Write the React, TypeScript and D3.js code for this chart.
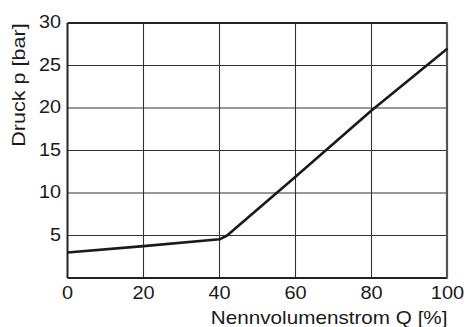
import React from "react";
import * as d3 from "d3";

const flowPercent = [0, 20, 40, 42, 60, 80, 100];
const pressureBar = [3.0, 3.75, 4.55, 5.0, 11.9, 19.7, 27.0];
const xTicks = [0, 20, 40, 60, 80, 100];
const yTicks = [5, 10, 15, 20, 25, 30];
const xTitle = "Nennvolumenstrom Q [%]";
const yTitle = "Druck p [bar]";

const W = 467;
const H = 327;
const left = 67.5;
const right = 447.5;
const top = 23;
const bottom = 278;
const FONT = "'Liberation Sans', Arial, Helvetica, sans-serif";

export default function App() {
  const x = d3.scaleLinear().domain([0, 100]).range([left, right]);
  const y = d3.scaleLinear().domain([0, 30]).range([bottom, top]);
  const pts = flowPercent.map((q, i) => [q, pressureBar[i]] as [number, number]);
  const line = d3
    .line<[number, number]>()
    .x((d) => x(d[0]))
    .y((d) => y(d[1]))
    .curve(d3.curveLinear);

  return (
    <svg
      width={W}
      height={H}
      style={{ position: "absolute", left: 0, top: 0, background: "#fff" }}
    >
      {/* grid */}
      {xTicks.slice(1, -1).map((t) => (
        <line key={"gx" + t} x1={x(t)} x2={x(t)} y1={top} y2={bottom} stroke="#333" strokeWidth={1.1} />
      ))}
      {yTicks.slice(0, -1).map((t) => (
        <line key={"gy" + t} x1={left} x2={right} y1={y(t)} y2={y(t)} stroke="#333" strokeWidth={1.1} />
      ))}
      {/* frame */}
      <line x1={left} x2={right} y1={top} y2={top} stroke="#222" strokeWidth={2} />
      <line x1={left} x2={right} y1={bottom} y2={bottom} stroke="#222" strokeWidth={2} />
      <line x1={left} x2={left} y1={top} y2={bottom} stroke="#222" strokeWidth={2} />
      <line x1={right - 0.5} x2={right - 0.5} y1={top} y2={bottom} stroke="#555" strokeWidth={2.2} />
      {/* curve */}
      <path d={line(pts) || ""} fill="none" stroke="#1a1a1a" strokeWidth={2.6} strokeLinejoin="round" strokeLinecap="butt" />
      {/* x tick labels */}
      {xTicks.map((t) => (
        <g key={"xl" + t} transform={`translate(${x(t)},299) scale(1.13,1)`}>
          <text textAnchor="middle" fontFamily={FONT} fontSize={17.7} fill="#1a1a1a">
            {t}
          </text>
        </g>
      ))}
      {/* y tick labels */}
      {yTicks.map((t) => (
        <g key={"yl" + t} transform={`translate(61,${y(t) + 5.2}) scale(1.12,1)`}>
          <text textAnchor="end" fontFamily={FONT} fontSize={17.7} fill="#1a1a1a">
            {t}
          </text>
        </g>
      ))}
      {/* x title */}
      <g transform={`translate(447.5,324) scale(1.13,1)`}>
        <text textAnchor="end" fontFamily={FONT} fontSize={18.3} fill="#1a1a1a">
          {xTitle}
        </text>
      </g>
      {/* y title */}
      <g transform={`translate(25,85) rotate(-90) scale(1.18,1)`}>
        <text textAnchor="middle" fontFamily={FONT} fontSize={18.3} fill="#1a1a1a">
          {yTitle}
        </text>
      </g>
    </svg>
  );
}
